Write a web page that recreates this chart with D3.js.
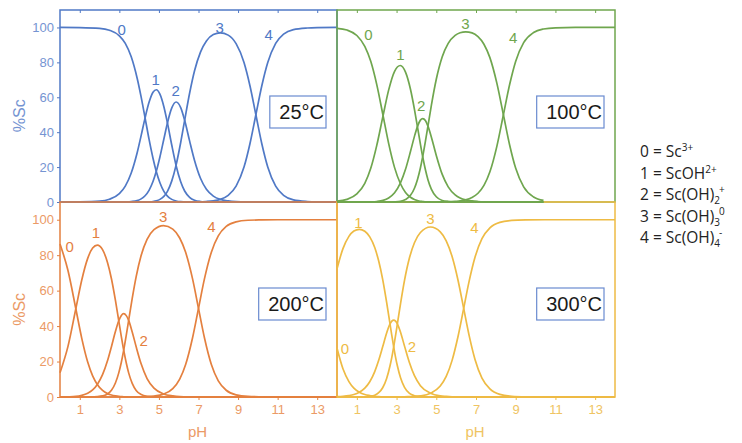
<!DOCTYPE html>
<html>
<head>
<meta charset="utf-8">
<script src="https://cdnjs.cloudflare.com/ajax/libs/d3/7.8.5/d3.min.js"></script>
<style>
  body { margin: 0; background: #fff; }
  text { font-family: "Liberation Sans", Arial, sans-serif; }
  text.legend { font-family: "Open Sans", "Noto Sans", sans-serif; }
</style>
</head>
<body>
<svg id="chart" width="742" height="443"></svg>
<script>
// ---- values (pH vs % of Sc in each species) ----
const phTicks = [1, 3, 5, 7, 9, 11, 13];
const scTicks = [0, 20, 40, 60, 80, 100];

// 25 C
const ph25 = [0, 1, 2, 2.5, 3, 3.3, 3.6, 3.9, 4.1, 4.3, 4.5, 4.7, 4.87, 5.05, 5.25, 5.43, 5.65, 5.87, 6.1, 6.3, 6.55, 6.8, 7.1, 7.4, 7.75, 8.1, 8.5, 8.9, 9.3, 9.6, 9.9, 10.2, 10.5, 10.9, 11.3, 11.8, 12.5, 13, 14];
const sc25_0 = [100, 99.9, 99.5, 98.4, 95.2, 90.9, 83.2, 70.9, 60.2, 48.2, 36.0, 25.1, 17.3, 11.0, 6.1, 3.4, 1.5, 0.6, 0.2, 0.1, 0, 0, 0, 0, 0, 0, 0, 0, 0, 0, 0, 0, 0, 0, 0, 0, 0, 0, 0];
const sc25_1 = [0, 0.1, 0.5, 1.6, 4.8, 9.1, 16.6, 28.2, 38.0, 48.2, 57.1, 62.9, 64.3, 61.8, 54.6, 45.3, 32.5, 20.8, 11.6, 6.3, 2.7, 1.0, 0.3, 0.1, 0, 0, 0, 0, 0, 0, 0, 0, 0, 0, 0, 0, 0, 0, 0];
const sc25_2 = [0, 0, 0, 0, 0, 0.1, 0.3, 0.8, 1.8, 3.6, 6.7, 11.7, 17.7, 25.8, 36.1, 45.3, 53.9, 57.3, 54.1, 46.8, 35.0, 23.8, 13.6, 7.3, 3.4, 1.5, 0.6, 0.2, 0.1, 0, 0, 0, 0, 0, 0, 0, 0, 0, 0];
const sc25_3 = [0, 0, 0, 0, 0, 0, 0, 0, 0, 0, 0.1, 0.3, 0.7, 1.5, 3.2, 6.1, 12.1, 21.3, 34.1, 46.8, 62.3, 75.2, 85.9, 92.3, 95.9, 96.9, 95.6, 90.7, 79.9, 66.6, 50, 33.4, 20.1, 9.1, 3.8, 1.2, 0.3, 0.1, 0];
const sc25_4 = [0, 0, 0, 0, 0, 0, 0, 0, 0, 0, 0, 0, 0, 0, 0, 0, 0, 0, 0, 0, 0, 0.1, 0.1, 0.3, 0.7, 1.5, 3.8, 9.1, 20.0, 33.4, 50, 66.6, 79.9, 90.9, 96.2, 98.8, 99.7, 99.9, 100];
const lab25 = [[3.12, 99], [4.84, 70], [5.85, 63.6], [8.07, 99.7], [10.55, 95.7]];

// 100 C (species 0-3 stop near pH 10.4)
const ph100 = [0, 0.5, 1, 1.4, 1.7, 2.0, 2.32, 2.6, 2.9, 3.19, 3.45, 3.7, 3.9, 4.05, 4.2, 4.32, 4.45, 4.58, 4.75, 5.0, 5.3, 5.6, 5.95, 6.2, 6.48, 6.8, 7.1, 7.4, 7.7, 8.05, 8.38, 8.7, 9.0, 9.4, 9.9, 10.4, 11, 12, 14];
const sc100_0 = [99.5, 98.5, 95.4, 89.2, 80.6, 67.4, 49.5, 33.6, 19.7, 10.6, 5.5, 2.7, 1.4, 0.8, 0.4, 0.3, 0.1, 0.1, 0, 0, 0, 0, 0, 0, 0, 0, 0, 0, 0, 0, 0, 0, 0, 0, 0, 0, null, null, null];
const sc100_1 = [0.5, 1.5, 4.6, 10.7, 19.3, 32.3, 49.5, 64.1, 74.9, 78.2, 74.4, 64.6, 53.1, 43.2, 33.2, 25.7, 18.6, 12.8, 7.4, 3.0, 0.9, 0.3, 0.1, 0, 0, 0, 0, 0, 0, 0, 0, 0, 0, 0, 0, 0, null, null, null];
const sc100_2 = [0, 0, 0, 0, 0.1, 0.3, 0.9, 2.3, 5.3, 10.8, 18.7, 28.9, 37.6, 43.2, 46.9, 47.8, 46.7, 43.5, 37.3, 26.7, 15.8, 8.7, 4.1, 2.3, 1.2, 0.6, 0.3, 0.1, 0, 0, 0, 0, 0, 0, 0, 0, null, null, null];
const sc100_3 = [0, 0, 0, 0, 0, 0, 0, 0, 0.1, 0.4, 1.4, 3.8, 7.9, 12.8, 19.5, 26.3, 34.6, 43.5, 55.2, 70.3, 83.2, 90.9, 95.5, 97.0, 97.5, 96.9, 94.7, 90.4, 82.7, 68.1, 50, 32.4, 19.3, 8.7, 2.9, 0.9, null, null, null];
const sc100_4 = [0, 0, 0, 0, 0, 0, 0, 0, 0, 0, 0, 0, 0, 0, 0, 0, 0, 0, 0, 0, 0.1, 0.2, 0.4, 0.6, 1.2, 2.6, 5.0, 9.5, 17.3, 31.9, 50, 67.6, 80.7, 91.3, 97.1, 99.1, 99.8, 100, 100];
const lab100 = [[1.58, 95.7], [3.2, 84.2], [4.24, 55], [6.47, 102.4], [8.87, 94.4]];

// 200 C
const ph200 = [0, 0.4, 0.8, 1.1, 1.4, 1.65, 1.885, 2.15, 2.4, 2.6, 2.8, 2.97, 3.1, 3.22, 3.35, 3.47, 3.65, 3.85, 4.1, 4.4, 4.75, 5.23, 5.7, 6.05, 6.35, 6.7, 7.0, 7.3, 7.65, 8.0, 8.4, 8.9, 9.5, 10.2, 11, 12, 14];
const sc200_0 = [86.3, 71.5, 49.8, 33.1, 19.7, 11.9, 7.1, 3.7, 1.9, 1.1, 0.6, 0.3, 0.2, 0.1, 0.1, 0, 0, 0, 0, 0, 0, 0, 0, 0, 0, 0, 0, 0, 0, 0, 0, 0, 0, 0, 0, 0, 0];
const sc200_1 = [13.7, 28.4, 49.8, 66.0, 78.2, 84.0, 85.7, 83.1, 75.9, 66.7, 54.6, 43.0, 34.1, 26.4, 19.2, 13.6, 7.7, 3.7, 1.4, 0.4, 0.1, 0, 0, 0, 0, 0, 0, 0, 0, 0, 0, 0, 0, 0, 0, 0, 0];
const sc200_2 = [0, 0.1, 0.3, 0.9, 2.1, 4.0, 7.1, 12.6, 20.4, 28.4, 36.9, 43.0, 46.0, 47.0, 45.9, 43.2, 36.7, 28.3, 18.7, 10.4, 5.0, 1.7, 0.6, 0.2, 0.1, 0, 0, 0, 0, 0, 0, 0, 0, 0, 0, 0, 0];
const sc200_3 = [0, 0, 0, 0, 0, 0.1, 0.2, 0.6, 1.7, 3.8, 7.9, 13.6, 19.6, 26.4, 34.9, 43.2, 55.6, 67.9, 79.8, 88.9, 94.4, 96.7, 94.7, 89.7, 81.6, 66.6, 50, 33.4, 18.3, 9.1, 3.8, 1.2, 0.3, 0.1, 0, 0, 0];
const sc200_4 = [0, 0, 0, 0, 0, 0, 0, 0, 0, 0, 0, 0, 0, 0, 0, 0, 0, 0, 0.1, 0.2, 0.5, 1.6, 4.7, 10.1, 18.3, 33.4, 50, 66.6, 81.7, 90.9, 96.2, 98.8, 99.7, 99.9, 100, 100, 100];
const lab200 = [[0.49, 84.9], [1.81, 92.5], [4.23, 31.8], [5.21, 101.9], [7.65, 96.2]];

// 300 C
const ph300 = [0, 0.3, 0.6, 0.85, 1.125, 1.4, 1.65, 1.9, 2.1, 2.3, 2.5, 2.67, 2.76, 2.855, 2.95, 3.04, 3.2, 3.4, 3.65, 3.9, 4.2, 4.71, 5.2, 5.5, 5.8, 6.1, 6.38, 6.65, 6.95, 7.3, 7.7, 8.2, 8.8, 9.5, 10.5, 12, 14];
const sc300_0 = [27.5, 15.9, 8.7, 5.0, 2.7, 1.4, 0.8, 0.4, 0.2, 0.1, 0.1, 0, 0, 0, 0, 0, 0, 0, 0, 0, 0, 0, 0, 0, 0, 0, 0, 0, 0, 0, 0, 0, 0, 0, 0, 0, 0];
const sc300_1 = [72.3, 83.7, 90.6, 93.6, 94.6, 93.5, 90.3, 84.3, 76.7, 66.4, 53.4, 41.2, 34.8, 28.3, 22.4, 17.6, 10.8, 5.4, 2.0, 0.7, 0.2, 0, 0, 0, 0, 0, 0, 0, 0, 0, 0, 0, 0, 0, 0, 0, 0];
const sc300_2 = [0.2, 0.4, 0.8, 1.4, 2.7, 5.0, 8.6, 14.3, 20.7, 28.3, 36.1, 41.2, 42.8, 43.4, 42.8, 41.2, 36.5, 28.7, 19.3, 12.0, 6.4, 2.1, 0.6, 0.3, 0.1, 0, 0, 0, 0, 0, 0, 0, 0, 0, 0, 0, 0];
const sc300_3 = [0, 0, 0, 0, 0, 0.1, 0.4, 1.0, 2.4, 5.2, 10.4, 17.6, 22.4, 28.3, 34.8, 41.2, 52.7, 65.8, 78.5, 87.0, 92.8, 95.9, 93.2, 88.1, 79.1, 65.6, 50, 34.9, 21.2, 10.7, 4.6, 1.5, 0.4, 0.1, 0, 0, 0];
const sc300_4 = [0, 0, 0, 0, 0, 0, 0, 0, 0, 0, 0, 0, 0, 0, 0, 0, 0, 0.1, 0.2, 0.3, 0.6, 2.1, 6.2, 11.6, 20.8, 34.4, 50, 65.1, 78.8, 89.3, 95.4, 98.5, 99.6, 99.9, 100, 100, 100];
const lab300 = [[0.4, 27.1], [1.08, 98.1], [3.77, 28.4], [4.7, 100.6], [6.92, 95.3]];

const speciesNames = ["0", "1", "2", "3", "4"];
const temps = ["25°C", "100°C", "200°C", "300°C"];

// legend: "0 = Sc3+" etc.
const legBase = ["Sc", "ScOH", "Sc(OH)", "Sc(OH)", "Sc(OH)"];
const legSub = ["", "", "2", "3", "4"];
const legSup = ["3+", "2+", "+", "0", "-"];

// ---- layout ----
const svg = d3.select("#chart");

const panels = [
  { ph: ph25, sp: [sc25_0, sc25_1, sc25_2, sc25_3, sc25_4], lab: lab25, temp: temps[0],
    x0: 60, x1: 337, y0: 10, y1: 202, col: "#5079c6", lite: "#7594d2", left: true, bottom: false },
  { ph: ph100, sp: [sc100_0, sc100_1, sc100_2, sc100_3, sc100_4], lab: lab100, temp: temps[1],
    x0: 337, x1: 615, y0: 10, y1: 202, col: "#6fa64e", lite: "#8cbb70", left: false, bottom: false },
  { ph: ph200, sp: [sc200_0, sc200_1, sc200_2, sc200_3, sc200_4], lab: lab200, temp: temps[2],
    x0: 60, x1: 337, y0: 202, y1: 397, col: "#e4803f", lite: "#eb9a66", left: true, bottom: true },
  { ph: ph300, sp: [sc300_0, sc300_1, sc300_2, sc300_3, sc300_4], lab: lab300, temp: temps[3],
    x0: 337, x1: 615, y0: 202, y1: 397, col: "#eebb44", lite: "#efc462", left: false, bottom: true }
];

panels.forEach(function (p) {
  p.x = d3.scaleLinear().domain([0, 14]).range([p.x0, p.x1]);
  p.y = d3.scaleLinear().domain([0, 110]).range([p.y1, p.y0]);
});

function drawFrame(p) {
  let g = svg.append("g");
  g.append("rect")
    .attr("x", p.x0).attr("y", p.y0)
    .attr("width", p.x1 - p.x0).attr("height", p.y1 - p.y0)
    .attr("fill", "none")
    .attr("stroke", p.col)
    .attr("stroke-width", 1.5);

  if (!p.bottom) {
    // small ticks hanging from the top edge
    let top = g.append("g")
      .attr("transform", "translate(0," + p.y0 + ")")
      .call(d3.axisBottom(p.x).tickValues(phTicks).tickSize(3).tickSizeOuter(0).tickFormat(""));
    top.select(".domain").remove();
    top.selectAll("line").attr("stroke", p.col);
  } else {
    let bot = g.append("g")
      .attr("transform", "translate(0," + p.y1 + ")")
      .call(d3.axisBottom(p.x).tickValues(phTicks).tickSize(3).tickSizeOuter(0).tickPadding(5));
    bot.select(".domain").remove();
    bot.selectAll("line").attr("stroke", p.col);
    bot.selectAll("text")
      .attr("fill", p.lite)
      .style("font-size", "13px")
      .style("font-family", "Liberation Sans, Arial, sans-serif");
    g.append("text")
      .attr("x", (p.x0 + p.x1) / 2 - 1)
      .attr("y", 437)
      .attr("text-anchor", "middle")
      .attr("fill", p.lite)
      .style("font-size", "15px")
      .text("pH");
  }

  if (p.left) {
    let ax = g.append("g")
      .attr("transform", "translate(" + p.x0 + ",0)")
      .call(d3.axisLeft(p.y).tickValues(scTicks).tickSize(3).tickSizeOuter(0).tickPadding(3));
    ax.select(".domain").remove();
    ax.selectAll("line").attr("stroke", p.col);
    ax.selectAll("text")
      .attr("fill", p.lite)
      .style("font-size", "13px")
      .style("font-family", "Liberation Sans, Arial, sans-serif");
    g.append("text")
      .attr("transform", "translate(25," + (p.y(50) + 1) + ") rotate(-90)")
      .attr("text-anchor", "middle")
      .attr("fill", p.lite)
      .style("font-size", "16px")
      .text("%Sc");
  }
}

function drawCurves(p) {
  let g = svg.append("g");
  let line = d3.line()
    .defined(function (d) { return d[1] != null; })
    .x(function (d) { return p.x(d[0]); })
    .y(function (d) { return p.y(d[1]); })
    .curve(d3.curveMonotoneX);

  p.sp.forEach(function (vals) {
    let pts = p.ph.map(function (ph, i) { return [ph, vals[i]]; });
    g.append("path")
      .attr("d", line(pts))
      .attr("fill", "none")
      .attr("stroke", p.col)
      .attr("stroke-width", 1.7);
  });

  g.selectAll(".lab")
    .data(p.lab)
    .enter()
    .append("text")
    .attr("class", "lab")
    .attr("x", function (d) { return p.x(d[0]); })
    .attr("y", function (d) { return p.y(d[1]); })
    .attr("dy", "0.36em")
    .attr("text-anchor", "middle")
    .attr("fill", p.col)
    .style("font-size", "15px")
    .text(function (d, i) { return speciesNames[i]; });

  // temperature box
  let by = p.y0 + 86;
  let t = g.append("text")
    .attr("x", p.x1 - 13)
    .attr("y", by + 23)
    .attr("text-anchor", "end")
    .attr("fill", "#1a1a1a")
    .style("font-size", "20px")
    .text(p.temp);
  let w = t.node().getComputedTextLength();
  g.insert("rect", "text")
    .attr("x", p.x1 - 13 - w - 9.5)
    .attr("y", by)
    .attr("width", w + 11.5)
    .attr("height", 32)
    .attr("fill", "#fff")
    .attr("stroke", "#6a8bd0")
    .attr("stroke-width", 1.2);
}

// drawing order keeps the shared edges coloured as in the figure
drawFrame(panels[0]);
drawCurves(panels[0]);
drawFrame(panels[1]);
drawFrame(panels[2]);
drawCurves(panels[2]);
drawFrame(panels[3]);
drawCurves(panels[3]);
drawCurves(panels[1]);

// ---- legend ----
let leg = svg.append("g");
speciesNames.forEach(function (s, i) {
  let t = leg.append("text")
    .attr("class", "legend")
    .attr("x", 640)
    .attr("y", 157 + i * 21.5)
    .attr("fill", "#222")
    .style("font-size", "15.5px");
  t.append("tspan").text(s + " = " + legBase[i]);
  if (legSub[i]) {
    t.append("tspan").attr("dy", 4).style("font-size", "10px").text(legSub[i]);
    t.append("tspan").attr("dy", -11).attr("dx", -1).style("font-size", "10px").text(legSup[i]);
  } else {
    t.append("tspan").attr("dy", -6).style("font-size", "10px").text(legSup[i]);
  }
});
</script>
</body>
</html>
